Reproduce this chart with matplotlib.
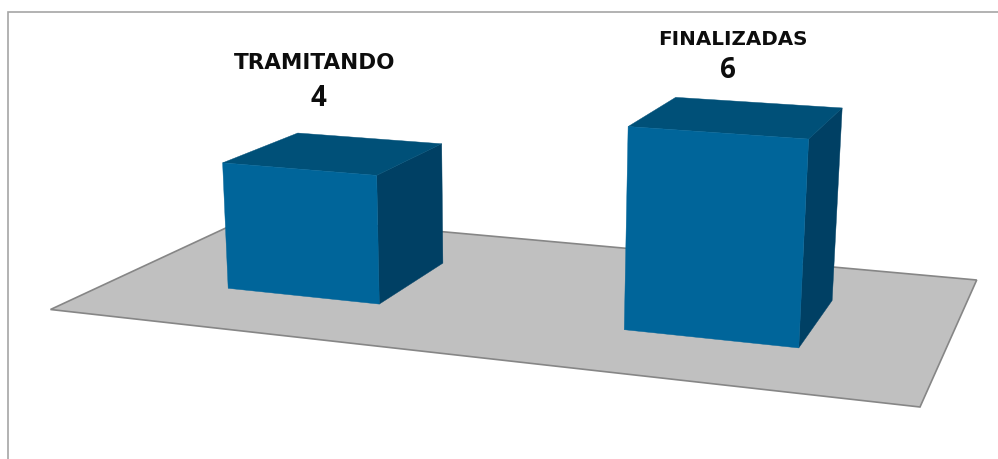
import numpy as np
import matplotlib
matplotlib.use('Agg')
import matplotlib.pyplot as plt
from matplotlib.patches import Polygon

# Data
categories = ['TRAMITANDO', 'FINALIZADAS']
values = [4, 6]

# Chart-space layout: category centres along the floor width, bar size, depth range
centers = [0.2485, 0.7480]
bar_width = 0.199
depth = (0.3, 0.695)

# Camera: perspective matrix from (u, v, z, 1) to image coordinates
CAMERA = np.array([
    [737.9520, 258.6005, -2.59359, 50.5],
    [39.3043, -48.6357, -33.55332, 309.5],
    [-0.142987, 0.215018, -0.0051254, 1.0],
])

def project(u, v, z=0.0):
    p = CAMERA @ np.array([u, v, z, 1.0])
    return p[0] / p[2], p[1] / p[2]

C_FLOOR, C_FLOOR_EDGE = '#c0c0c0', '#868686'
C_FRONT, C_TOP, C_SIDE = '#00659a', '#005078', '#004064'
C_FRAME = '#a6a6a6'

fig = plt.figure(figsize=(9.98, 4.59), dpi=100, facecolor='white')
ax = fig.add_axes([0, 0, 1, 1])
ax.set_xlim(0, 998)
ax.set_ylim(459, 0)
ax.axis('off')

# Outer chart frame (clipped by the image on the right and bottom)
ax.plot([8, 8, 998], [459, 12, 12], color=C_FRAME, lw=1.2, solid_joinstyle='miter', zorder=1)

# Floor
floor = [project(0, 0), project(1, 0), project(1, 1), project(0, 1)]
ax.add_patch(Polygon(floor, closed=True, facecolor=C_FLOOR, edgecolor=C_FLOOR_EDGE,
                     lw=1.2, joinstyle='miter', zorder=2))

# Bars
for c, val in zip(centers, values):
    u0, u1 = c - bar_width / 2, c + bar_width / 2
    v0, v1 = depth
    front = [project(u0, v0), project(u1, v0), project(u1, v0, val), project(u0, v0, val)]
    side = [project(u1, v0), project(u1, v1), project(u1, v1, val), project(u1, v0, val)]
    top = [project(u0, v0, val), project(u1, v0, val), project(u1, v1, val), project(u0, v1, val)]
    for poly, col in ((side, C_SIDE), (top, C_TOP), (front, C_FRONT)):
        ax.add_patch(Polygon(poly, closed=True, facecolor=col, edgecolor=col, lw=0.3, zorder=3))

# Labels
label_specs = [(315, 69, 15.5), (732.5, 45, 14.3)]
value_specs = [(318.5, 106), (728, 78.5)]
for name, (x, y, fs) in zip(categories, label_specs):
    ax.text(x, y, name, ha='center', va='baseline', family='DejaVu Sans',
            fontweight='bold', fontsize=fs, color='#0d0d0d', zorder=4)
for val, (x, y) in zip(values, value_specs):
    ax.text(x, y, str(val), ha='center', va='baseline', family='Open Sans',
            fontweight='bold', fontsize=20, color='#0d0d0d', zorder=4)

fig.savefig('out.png', dpi=100, facecolor='white')
